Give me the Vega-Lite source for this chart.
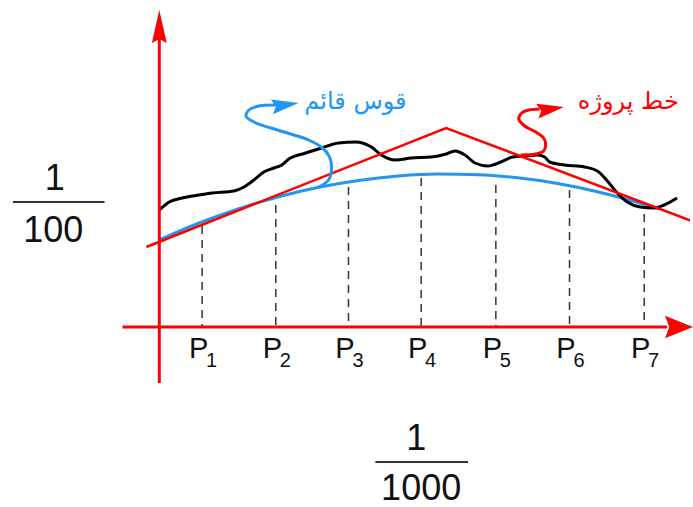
{
  "$schema": "https://vega.github.io/schema/vega-lite/v6.json",
  "width": 693,
  "height": 507,
  "padding": 0,
  "autosize": {"type": "fit", "contains": "padding"},
  "background": "white",
  "config": {"view": {"stroke": null}},
  "datasets": {
    "black": [
      {"x": 0, "y": 117}, {"x": 10, "y": 125}, {"x": 23, "y": 129}, {"x": 40, "y": 132}, {"x": 53, "y": 134},
      {"x": 75, "y": 136}, {"x": 85, "y": 140}, {"x": 95, "y": 147}, {"x": 105, "y": 155}, {"x": 115, "y": 159},
      {"x": 123, "y": 162}, {"x": 130, "y": 168}, {"x": 147, "y": 174}, {"x": 163, "y": 179}, {"x": 180, "y": 184},
      {"x": 197, "y": 185}, {"x": 213, "y": 180}, {"x": 223, "y": 172}, {"x": 237, "y": 167},
      {"x": 253, "y": 169}, {"x": 273, "y": 170}, {"x": 288, "y": 173}, {"x": 297, "y": 176}, {"x": 307, "y": 172},
      {"x": 317, "y": 164}, {"x": 330, "y": 161}, {"x": 343, "y": 165}, {"x": 355, "y": 170}, {"x": 367, "y": 171},
      {"x": 380, "y": 172}, {"x": 387, "y": 170}, {"x": 392, "y": 165}, {"x": 407, "y": 162}, {"x": 427, "y": 160},
      {"x": 440, "y": 156}, {"x": 450, "y": 146}, {"x": 460, "y": 134}, {"x": 470, "y": 125}, {"x": 483, "y": 120},
      {"x": 497, "y": 119}, {"x": 507, "y": 122}, {"x": 520, "y": 129}
    ],
    "blue": [
      {"x": 0, "y": 87}, {"x": 40, "y": 104}, {"x": 80, "y": 118.4}, {"x": 120, "y": 130.3}, {"x": 160, "y": 139.7},
      {"x": 200, "y": 146.6}, {"x": 240, "y": 151}, {"x": 280, "y": 152.9}, {"x": 320, "y": 152.3}, {"x": 360, "y": 149.2},
      {"x": 400, "y": 143.5}, {"x": 440, "y": 135.3}, {"x": 480, "y": 124.7}, {"x": 502, "y": 118}
    ],
    "tangent": [
      {"x": -13, "y": 80}, {"x": 288, "y": 199}, {"x": 540, "y": 104}
    ],
    "bwiggle": [
      {"i": 0, "x": 158, "y": 139}, {"i": 1, "x": 170, "y": 147}, {"i": 2, "x": 173, "y": 159}, {"i": 3, "x": 171, "y": 170},
      {"i": 4, "x": 164, "y": 179}, {"i": 5, "x": 150, "y": 187}, {"i": 6, "x": 132, "y": 193}, {"i": 7, "x": 112, "y": 199},
      {"i": 8, "x": 95, "y": 205}, {"i": 9, "x": 87, "y": 211}, {"i": 10, "x": 90, "y": 217}, {"i": 11, "x": 100, "y": 221},
      {"i": 12, "x": 118, "y": 222}
    ],
    "rwiggle": [
      {"i": 0, "x": 363, "y": 172}, {"i": 1, "x": 378, "y": 173}, {"i": 2, "x": 386, "y": 176}, {"i": 3, "x": 388, "y": 182},
      {"i": 4, "x": 386, "y": 189}, {"i": 5, "x": 378, "y": 195}, {"i": 6, "x": 367, "y": 201}, {"i": 7, "x": 361, "y": 208},
      {"i": 8, "x": 364, "y": 214}, {"i": 9, "x": 371, "y": 217}, {"i": 10, "x": 382, "y": 218}
    ],
    "axes": [
      {"x": -37, "y": 0, "x2": 510, "y2": 0},
      {"x": 0, "y": -56, "x2": 0, "y2": 290}
    ],
    "dash": [
      {"x": 43, "y": 101, "y2": 0}, {"x": 117, "y": 122, "y2": 0}, {"x": 190, "y": 140, "y2": 0},
      {"x": 263, "y": 149, "y2": 0}, {"x": 338, "y": 142, "y2": 0}, {"x": 412, "y": 137, "y2": 0},
      {"x": 487, "y": 113, "y2": 0}
    ],
    "headUp": [{"x": 0, "y": 300.5}],
    "headRight": [{"x": 522, "y": 0}],
    "headBlue": [{"x": 126.5, "y": 222}],
    "headRed": [{"x": 393, "y": 218}],
    "pmain": [
      {"x": 39.5, "y": -31, "t": "P"}, {"x": 113.5, "y": -31, "t": "P"}, {"x": 186.5, "y": -31, "t": "P"},
      {"x": 259.5, "y": -31, "t": "P"}, {"x": 334.5, "y": -31, "t": "P"}, {"x": 408.5, "y": -31, "t": "P"},
      {"x": 483.5, "y": -31, "t": "P"}
    ],
    "psub": [
      {"x": 52.5, "y": -40, "t": "1"}, {"x": 126.5, "y": -40, "t": "2"}, {"x": 199.5, "y": -40, "t": "3"},
      {"x": 272.5, "y": -40, "t": "4"}, {"x": 347.5, "y": -40, "t": "5"}, {"x": 421.5, "y": -40, "t": "6"},
      {"x": 496.5, "y": -40, "t": "7"}
    ],
    "fracText": [
      {"x": -105, "y": 137, "t": "1"}, {"x": -106.5, "y": 85, "t": "100"},
      {"x": 258, "y": -123, "t": "1"}, {"x": 263, "y": -173, "t": "1000"}
    ],
    "fracBar": [
      {"x": -147, "x2": -55, "y": 125}, {"x": 217, "x2": 310, "y": -135}
    ],
    "blueLabel": [{"x": 197, "y": 225, "t": "قوس قائم"}],
    "redLabel": [{"x": 471, "y": 225, "t": "خط پروژه"}]
  },
  "encoding": {
    "x": {"field": "x", "type": "quantitative", "scale": {"domain": [-160, 533], "nice": false, "zero": false}, "axis": null},
    "y": {"field": "y", "type": "quantitative", "scale": {"domain": [-180, 327], "nice": false, "zero": false}, "axis": null}
  },
  "layer": [
    {
      "data": {"name": "dash"},
      "mark": {"type": "rule", "color": "#333333", "strokeWidth": 1.5, "strokeDash": [8, 6]},
      "encoding": {"y2": {"field": "y2"}}
    },
    {
      "data": {"name": "blue"},
      "mark": {"type": "line", "color": "#2196f3", "strokeWidth": 3, "interpolate": "monotone"},
      "encoding": {}
    },
    {
      "data": {"name": "black"},
      "mark": {"type": "line", "color": "#000000", "strokeWidth": 3, "interpolate": "monotone"},
      "encoding": {}
    },
    {
      "data": {"name": "tangent"},
      "mark": {"type": "line", "color": "#ff0000", "strokeWidth": 2.5, "clip": true},
      "encoding": {}
    },
    {
      "data": {"name": "bwiggle"},
      "mark": {"type": "line", "color": "#2196f3", "strokeWidth": 3, "interpolate": "catmull-rom"},
      "encoding": {"order": {"field": "i", "type": "quantitative"}}
    },
    {
      "data": {"name": "rwiggle"},
      "mark": {"type": "line", "color": "#ff0000", "strokeWidth": 3, "interpolate": "catmull-rom"},
      "encoding": {"order": {"field": "i", "type": "quantitative"}}
    },
    {
      "data": {"name": "axes"},
      "mark": {"type": "rule", "color": "#ff0000", "strokeWidth": 3},
      "encoding": {"x2": {"field": "x2"}, "y2": {"field": "y2"}}
    },
    {
      "data": {"name": "headUp"},
      "mark": {"type": "point", "shape": "M0,-1L0.45,1L0,0.75L-0.45,1Z", "size": 1089, "filled": true, "color": "#ff0000", "opacity": 1, "strokeWidth": 0}
    },
    {
      "data": {"name": "headRight"},
      "mark": {"type": "point", "shape": "M1,0L-1,0.8L-0.7,0L-1,-0.8Z", "size": 784, "filled": true, "color": "#ff0000", "opacity": 1, "strokeWidth": 0}
    },
    {
      "data": {"name": "headBlue"},
      "mark": {"type": "point", "shape": "M1,0L-1,0.55L-0.7,0L-1,-0.55Z", "size": 729, "angle": -8, "filled": true, "color": "#2196f3", "opacity": 1, "strokeWidth": 0}
    },
    {
      "data": {"name": "headRed"},
      "mark": {"type": "point", "shape": "M1,0L-1,0.55L-0.7,0L-1,-0.55Z", "size": 729, "angle": -9, "filled": true, "color": "#ff0000", "opacity": 1, "strokeWidth": 0}
    },
    {
      "data": {"name": "pmain"},
      "mark": {"type": "text", "font": "Liberation Sans Narrow, Liberation Sans", "fontSize": 29, "color": "#111111", "align": "center", "baseline": "alphabetic"},
      "encoding": {"text": {"field": "t"}}
    },
    {
      "data": {"name": "psub"},
      "mark": {"type": "text", "font": "Liberation Sans Narrow, Liberation Sans", "fontSize": 20, "color": "#111111", "align": "center", "baseline": "alphabetic"},
      "encoding": {"text": {"field": "t"}}
    },
    {
      "data": {"name": "fracText"},
      "mark": {"type": "text", "font": "Liberation Sans", "fontSize": 36, "color": "#111111", "align": "center", "baseline": "alphabetic"},
      "encoding": {"text": {"field": "t"}}
    },
    {
      "data": {"name": "fracBar"},
      "mark": {"type": "rule", "color": "#333333", "strokeWidth": 2},
      "encoding": {"x2": {"field": "x2"}}
    },
    {
      "data": {"name": "blueLabel"},
      "mark": {"type": "text", "font": "DejaVu Sans", "fontSize": 24, "color": "#2196f3", "align": "center", "baseline": "middle"},
      "encoding": {"text": {"field": "t"}}
    },
    {
      "data": {"name": "redLabel"},
      "mark": {"type": "text", "font": "DejaVu Sans", "fontSize": 24, "color": "#ff0000", "align": "center", "baseline": "middle"},
      "encoding": {"text": {"field": "t"}}
    }
  ]
}
